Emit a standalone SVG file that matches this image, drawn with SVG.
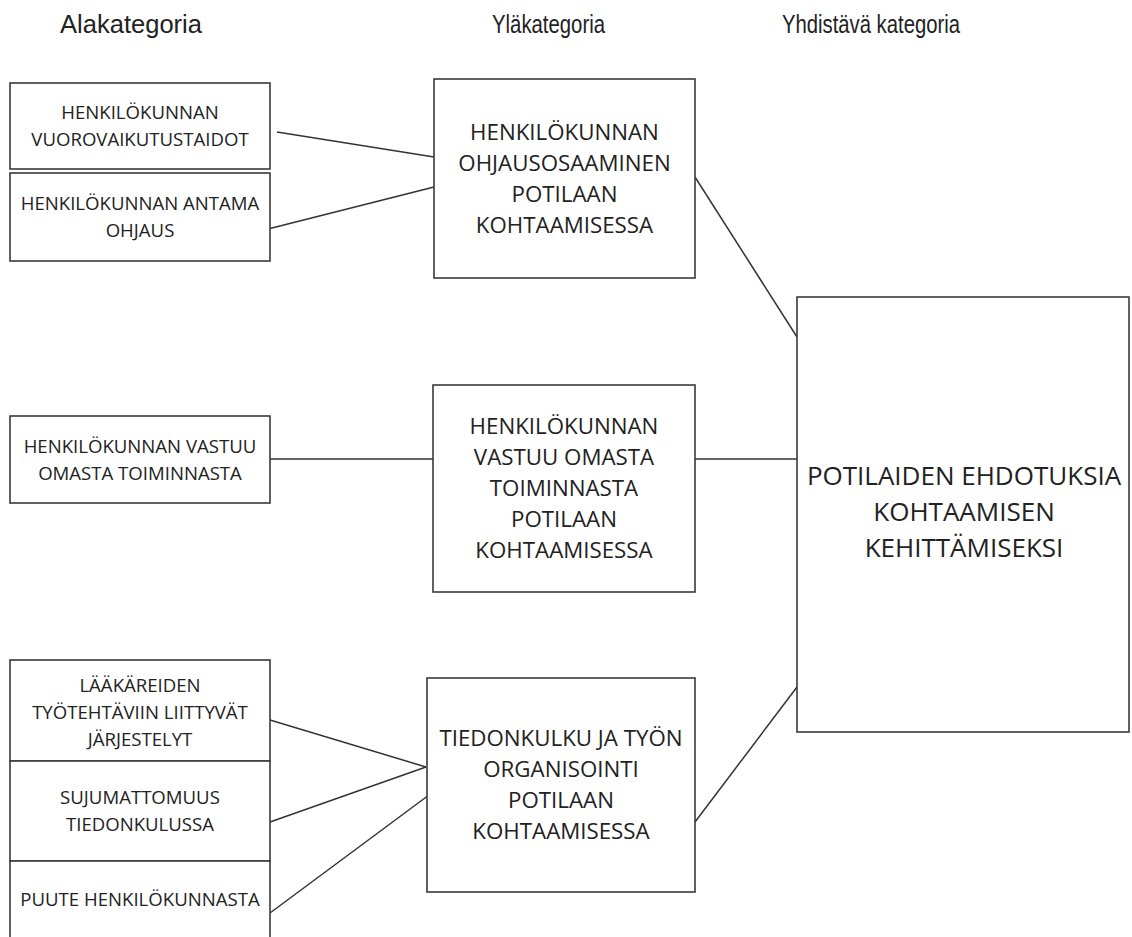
<svg xmlns="http://www.w3.org/2000/svg" width="1132" height="937" viewBox="0 0 1132 937">
<style>
  .box { fill: #ffffff; stroke: #3a3a3a; stroke-width: 1.6; }
  .hdr { font-family: "Liberation Sans", Arial, sans-serif; font-size: 25px; fill: #222222; }
  .s { font-family: "Open Sans", "Noto Sans", sans-serif; font-size: 18.6px; fill: #222222; text-anchor: middle; }
  .m { font-family: "Open Sans", "Noto Sans", sans-serif; font-size: 22.3px; fill: #222222; text-anchor: middle; }
  .l { font-family: "Open Sans", "Noto Sans", sans-serif; font-size: 26px; fill: #222222; text-anchor: middle; }
  .conn line { stroke: #333333; stroke-width: 1.5; }
</style>
<rect width="1132" height="937" fill="#ffffff"/>

<g id="headers">
  <text class="hdr" x="60" y="33" textLength="142" lengthAdjust="spacingAndGlyphs">Alakategoria</text>
  <text class="hdr" x="492" y="33" textLength="113" lengthAdjust="spacingAndGlyphs">Yläkategoria</text>
  <text class="hdr" x="782" y="33" textLength="178" lengthAdjust="spacingAndGlyphs">Yhdistävä kategoria</text>
</g>

<g id="connectors" class="conn">
  <line x1="277" y1="132" x2="434" y2="157"/>
  <line x1="268" y1="229" x2="434" y2="187"/>
  <line x1="270" y1="459" x2="433" y2="459"/>
  <line x1="270" y1="720" x2="426" y2="767"/>
  <line x1="270" y1="822" x2="426" y2="767"/>
  <line x1="270" y1="913" x2="433" y2="792"/>
  <line x1="695" y1="177" x2="797" y2="337"/>
  <line x1="695" y1="459" x2="797" y2="459"/>
  <line x1="695" y1="822" x2="797" y2="687"/>
</g>

<g id="sub1">
  <rect class="box" x="10" y="83" width="260" height="86"/>
  <text class="s" x="140" y="119">HENKILÖKUNNAN</text>
  <text class="s" x="140" y="146">VUOROVAIKUTUSTAIDOT</text>
</g>
<g id="sub2">
  <rect class="box" x="10" y="173" width="260" height="88"/>
  <text class="s" x="140" y="210">HENKILÖKUNNAN ANTAMA</text>
  <text class="s" x="140" y="237">OHJAUS</text>
</g>
<g id="sub3">
  <rect class="box" x="10" y="416" width="260" height="87"/>
  <text class="s" x="140" y="453">HENKILÖKUNNAN VASTUU</text>
  <text class="s" x="140" y="480">OMASTA TOIMINNASTA</text>
</g>
<g id="sub4">
  <rect class="box" x="10" y="660" width="260" height="101"/>
  <text class="s" x="140" y="692">LÄÄKÄREIDEN</text>
  <text class="s" x="140" y="719">TYÖTEHTÄVIIN LIITTYVÄT</text>
  <text class="s" x="140" y="746">JÄRJESTELYT</text>
</g>
<g id="sub5">
  <rect class="box" x="10" y="761" width="260" height="100"/>
  <text class="s" x="140" y="804">SUJUMATTOMUUS</text>
  <text class="s" x="140" y="831">TIEDONKULUSSA</text>
</g>
<g id="sub6">
  <rect class="box" x="10" y="861" width="260" height="90"/>
  <text class="s" x="140" y="906">PUUTE HENKILÖKUNNASTA</text>
</g>

<g id="upper1">
  <rect class="box" x="434" y="79" width="261" height="199"/>
  <text class="m" x="564.5" y="140">HENKILÖKUNNAN</text>
  <text class="m" x="564.5" y="171">OHJAUSOSAAMINEN</text>
  <text class="m" x="564.5" y="202">POTILAAN</text>
  <text class="m" x="564.5" y="233">KOHTAAMISESSA</text>
</g>
<g id="upper2">
  <rect class="box" x="433" y="385" width="262" height="207"/>
  <text class="m" x="564" y="434">HENKILÖKUNNAN</text>
  <text class="m" x="564" y="465">VASTUU OMASTA</text>
  <text class="m" x="564" y="496">TOIMINNASTA</text>
  <text class="m" x="564" y="527">POTILAAN</text>
  <text class="m" x="564" y="558">KOHTAAMISESSA</text>
</g>
<g id="upper3">
  <rect class="box" x="427" y="678" width="268" height="214"/>
  <text class="m" x="561" y="746">TIEDONKULKU JA TYÖN</text>
  <text class="m" x="561" y="777">ORGANISOINTI</text>
  <text class="m" x="561" y="808">POTILAAN</text>
  <text class="m" x="561" y="839">KOHTAAMISESSA</text>
</g>

<g id="main">
  <rect class="box" x="797" y="297" width="332" height="435"/>
  <text class="l" x="964" y="485">POTILAIDEN EHDOTUKSIA</text>
  <text class="l" x="964" y="521">KOHTAAMISEN</text>
  <text class="l" x="964" y="557">KEHITTÄMISEKSI</text>
</g>
</svg>
